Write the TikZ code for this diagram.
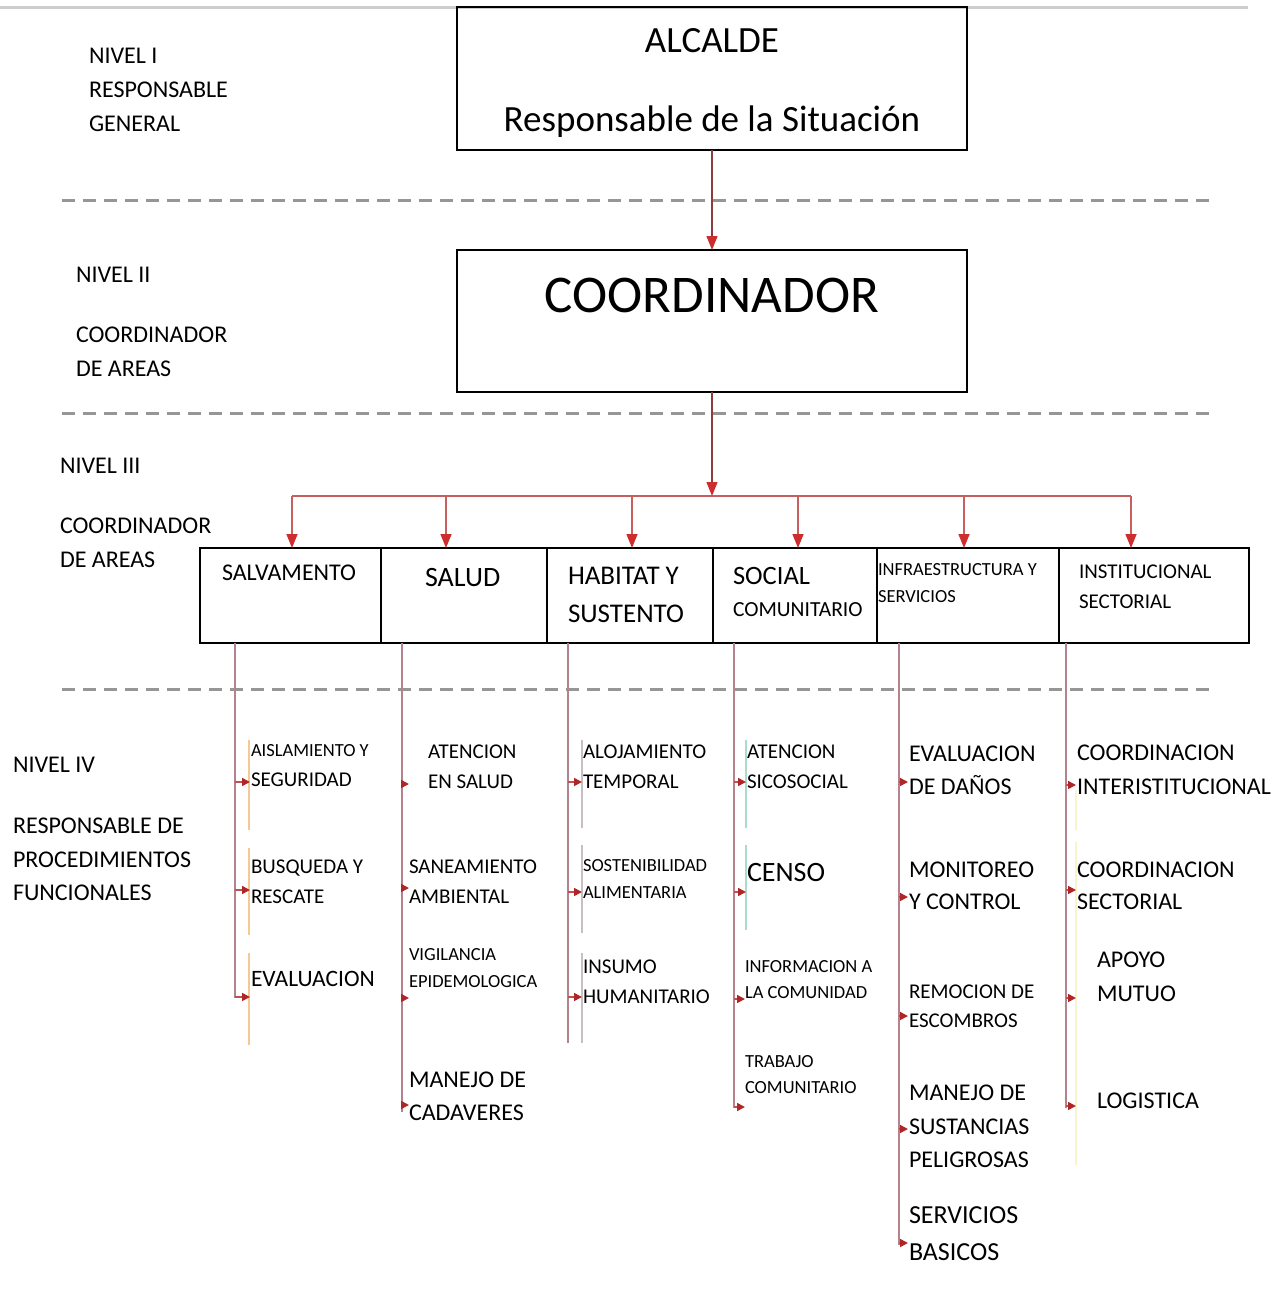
\documentclass[tikz,border=0pt]{standalone}
\usepackage{fontspec}
\setmainfont{Carlito}
\usetikzlibrary{arrows.meta,calc}
\definecolor{arrred}{RGB}{205,45,45}
\definecolor{busc}{RGB}{200,95,95}
\definecolor{stemc}{RGB}{140,60,60}
\definecolor{colc}{RGB}{180,130,140}
\definecolor{dashc}{RGB}{150,150,150}
\definecolor{topc}{RGB}{205,205,205}
\definecolor{edgeo}{RGB}{245,200,150}
\definecolor{edgeg}{RGB}{170,220,200}
\definecolor{edgey}{RGB}{248,244,205}
\definecolor{edgegr}{RGB}{200,190,195}
\newcommand\fsz[2]{\fontsize{#1}{#2}\selectfont}
\begin{document}
\begin{tikzpicture}[x=1pt,y=-1pt,
  txt/.style={anchor=west, inner sep=0pt, outer sep=0pt, align=left},
  ctxt/.style={anchor=base, inner sep=0pt, outer sep=0pt},
  box/.style={draw=black, line width=1.5pt, inner sep=0pt, outer sep=0pt},
  darr/.style={draw=stemc, line width=1.3pt, -{Triangle[length=14pt,width=11pt,color=arrred,fill=arrred]}},
  droparr/.style={draw=busc, line width=1.5pt, -{Triangle[length=14pt,width=11pt,color=arrred,fill=arrred]}},
  busline/.style={draw=busc, line width=1.8pt},
  colline/.style={draw=colc, line width=1.6pt},
  sarr/.style={draw=arrred!60!colc, line width=1.6pt, -{Triangle[length=8pt,width=8pt,color=arrred!85!black,fill=arrred!85!black]}},
  dashl/.style={draw=dashc, line width=3pt, dash pattern=on 13pt off 8pt},
  faint/.style={line width=1.6pt}
]
\fill[white] (0,0) rectangle (1281,1300);
\useasboundingbox (0,0) rectangle (1281,1300);

% top grey line
\coordinate (tl0) at (0,8);
\coordinate (tl1) at (1248,8);
\draw[draw=topc, line width=3pt] (tl0) -- (tl1);

% dashed separators
\coordinate (d1a) at (62,200);  \coordinate (d1b) at (1210,200);
\coordinate (d2a) at (62,413);  \coordinate (d2b) at (1210,413);
\coordinate (d3a) at (62,689);  \coordinate (d3b) at (1210,689);
\draw[dashl] (d1a) -- (d1b);
\draw[dashl] (d2a) -- (d2b);
\draw[dashl] (d3a) -- (d3b);

% left level labels
\node[txt, font=\fsz{24}{34}] (nl1) at (89,89.7) {NIVEL I\\RESPONSABLE\\GENERAL};
\node[txt, font=\fsz{24}{34}] (nl2a) at (76,275) {NIVEL II};
\node[txt, font=\fsz{24}{34}] (nl2b) at (76,352) {COORDINADOR\\DE AREAS};
\node[txt, font=\fsz{24}{34}] (nl3a) at (60,466) {NIVEL III};
\node[txt, font=\fsz{24}{34}] (nl3b) at (60,543) {COORDINADOR\\DE AREAS};
\node[txt, font=\fsz{24}{34}] (nl4a) at (13,765) {NIVEL IV};
\node[txt, font=\fsz{24}{33.5}] (nl4b) at (13,859.3) {RESPONSABLE DE\\PROCEDIMIENTOS\\FUNCIONALES};

% top boxes
\node[box, minimum width=510pt, minimum height=143pt] (alc) at (712,78.5) {};
\node[ctxt, font=\fsz{37}{44}] (alct) at (712,52.7) {ALCALDE};
\node[ctxt, font=\fsz{37}{44}] (alcr) at (712,131.7) {Responsable de la Situación};
\node[box, minimum width=510pt, minimum height=142pt] (coord) at (712,321) {};
\node[ctxt, font=\fsz{53}{60}] (coordt) at (712,312.7) {COORDINADOR};

% level III boxes
\node[box, minimum width=181pt, minimum height=95pt] (salv) at (290.5,595.5) {};
\node[box, minimum width=166pt, minimum height=95pt] (salud) at (464,595.5) {};
\node[box, minimum width=166pt, minimum height=95pt] (hab) at (630,595.5) {};
\node[box, minimum width=164pt, minimum height=95pt] (soc) at (795,595.5) {};
\node[box, minimum width=182pt, minimum height=95pt] (infra) at (968,595.5) {};
\node[box, minimum width=190pt, minimum height=95pt] (inst) at (1154,595.5) {};

\node[txt, font=\fsz{24}{30}] (salvt) at (222,573) {SALVAMENTO};
\node[txt, font=\fsz{28}{34}] (saludt) at (425,578) {SALUD};
\node[txt, font=\fsz{27}{38}] (habt) at (568,595) {HABITAT Y\\SUSTENTO};
\node[txt, font=\fsz{26.5}{32}] (soct1) at (733,576) {SOCIAL};
\node[txt, font=\fsz{21.5}{30}] (soct2) at (733,610) {COMUNITARIO};
\node[txt, font=\fsz{18.5}{27}] (infrat) at (878,583.5) {INFRAESTRUCTURA Y\\SERVICIOS};
\node[txt, font=\fsz{21}{30}] (instt) at (1079,587) {INSTITUCIONAL\\SECTORIAL};

% connectors
\coordinate (bj) at (712,496);
\coordinate (b1) at (292,496);
\coordinate (b2) at (446,496);
\coordinate (b3) at (632,496);
\coordinate (b4) at (798,496);
\coordinate (b5) at (964,496);
\coordinate (b6) at (1131,496);
\draw[darr] (alc.south) -- (coord.north);
\draw[busline] (b1) -- (b6);
\draw[darr] (coord.south) -- (bj);
\draw[droparr] (b1) -- (b1 |- salv.north);
\draw[droparr] (b2) -- (b2 |- salud.north);
\draw[droparr] (b3) -- (b3 |- hab.north);
\draw[droparr] (b4) -- (b4 |- soc.north);
\draw[droparr] (b5) -- (b5 |- infra.north);
\draw[droparr] (b6) -- (b6 |- inst.north);

% faint text box edges
\draw[faint, edgeo] (249,740) -- (249,830) (249,848) -- (249,935) (249,953) -- (249,1045);
\draw[faint, edgegr] (582,740) -- (582,828) (582,845) -- (582,933) (582,953) -- (582,1043);
\draw[faint, edgeg] (746,740) -- (746,828) (746,845) -- (746,930);
\draw[faint, edgey] (1076,790) -- (1076,830) (1076,842) -- (1076,1165);

% column lines
\coordinate (cS) at (235,643);  \coordinate (cSe) at (235,998);
\coordinate (cH) at (402,643);  \coordinate (cHe) at (402,1112);
\coordinate (cB) at (568,643);  \coordinate (cBe) at (568,1043);
\coordinate (cC) at (734,643);  \coordinate (cCe) at (734,1108);
\coordinate (cI) at (899,643);  \coordinate (cIe) at (899,1245);
\coordinate (cT) at (1066,643); \coordinate (cTe) at (1066,1108);
\draw[colline] (cS) -- (cSe);
\draw[colline] (cH) -- (cHe);
\draw[colline] (cB) -- (cBe);
\draw[colline] (cC) -- (cCe);
\draw[colline] (cI) -- (cIe);
\draw[colline] (cT) -- (cTe);

% SALVAMENTO items
\node[txt, font=\fsz{18.5}{30}] (s1) at (251,766) {AISLAMIENTO Y\\{\fsz{21}{30}SEGURIDAD}};
\node[txt, font=\fsz{21}{30}] (s2) at (251,882) {BUSQUEDA Y\\RESCATE};
\node[txt, font=\fsz{23.5}{30}] (s3) at (251,979) {EVALUACION};
\coordinate (as1) at (250,782); \coordinate (as2) at (250,890); \coordinate (as3) at (250,997);
\draw[sarr] (cS |- as1) -- (as1);
\draw[sarr] (cS |- as2) -- (as2);
\draw[sarr] (cS |- as3) -- (as3);

% SALUD items
\node[txt, font=\fsz{21}{30}] (h1) at (428,767) {ATENCION\\EN SALUD};
\node[txt, font=\fsz{21}{30}] (h2) at (409,882) {SANEAMIENTO\\AMBIENTAL};
\node[txt, font=\fsz{18.5}{27}] (h3) at (409,968.5) {VIGILANCIA\\EPIDEMOLOGICA};
\node[txt, font=\fsz{24}{33}] (h4) at (409,1096.5) {MANEJO DE\\CADAVERES};
\coordinate (ah1) at (409,784); \coordinate (ah2) at (409,888); \coordinate (ah3) at (409,998); \coordinate (ah4) at (409,1105);
\draw[sarr] (cH |- ah1) -- (ah1);
\draw[sarr] (cH |- ah2) -- (ah2);
\draw[sarr] (cH |- ah3) -- (ah3);
\draw[sarr] (cH |- ah4) -- (ah4);

% HABITAT items
\node[txt, font=\fsz{21}{30}] (hb1) at (583,767) {ALOJAMIENTO\\TEMPORAL};
\node[txt, font=\fsz{18.5}{27}] (hb2) at (583,878.5) {SOSTENIBILIDAD\\ALIMENTARIA};
\node[txt, font=\fsz{21}{30}] (hb3) at (583,982) {INSUMO\\HUMANITARIO};
\coordinate (ab1) at (582,782); \coordinate (ab2) at (582,892); \coordinate (ab3) at (582,997);
\draw[sarr] (cB |- ab1) -- (ab1);
\draw[sarr] (cB |- ab2) -- (ab2);
\draw[sarr] (cB |- ab3) -- (ab3);

% SOCIAL items
\node[txt, font=\fsz{21}{30}] (c1) at (747,767) {ATENCION\\SICOSOCIAL};
\node[txt, font=\fsz{28}{34}] (c2) at (747,873) {CENSO};
\node[txt, font=\fsz{18.5}{26}] (c3) at (745,979.5) {INFORMACION A\\LA COMUNIDAD};
\node[txt, font=\fsz{18.5}{26}] (c4) at (745,1075) {TRABAJO\\COMUNITARIO};
\coordinate (ac1) at (746,782); \coordinate (ac2) at (746,892); \coordinate (ac3) at (745,999); \coordinate (ac4) at (745,1107);
\draw[sarr] (cC |- ac1) -- (ac1);
\draw[sarr] (cC |- ac2) -- (ac2);
\draw[sarr] (cC |- ac3) -- (ac3);
\draw[sarr] (cC |- ac4) -- (ac4);

% INFRAESTRUCTURA items
\node[txt, font=\fsz{24}{33}] (i1) at (909,770.5) {EVALUACION\\DE DAÑOS};
\node[txt, font=\fsz{24}{32}] (i2) at (909,886) {MONITOREO\\Y CONTROL};
\node[txt, font=\fsz{21}{29}] (i3) at (909,1006.5) {REMOCION DE\\ESCOMBROS};
\node[txt, font=\fsz{24}{33.5}] (i4) at (909,1126.5) {MANEJO DE\\SUSTANCIAS\\PELIGROSAS};
\node[txt, font=\fsz{26}{37}] (i5) at (909,1233.5) {SERVICIOS\\BASICOS};
\coordinate (ai1) at (908,782); \coordinate (ai2) at (908,897); \coordinate (ai3) at (908,1016); \coordinate (ai4) at (908,1129); \coordinate (ai5) at (908,1243);
\draw[sarr] (cI |- ai1) -- (ai1);
\draw[sarr] (cI |- ai2) -- (ai2);
\draw[sarr] (cI |- ai3) -- (ai3);
\draw[sarr] (cI |- ai4) -- (ai4);
\draw[sarr] (cI |- ai5) -- (ai5);

% INSTITUCIONAL items
\node[txt, font=\fsz{24}{34}] (t1) at (1077,770) {COORDINACION\\INTERISTITUCIONAL};
\node[txt, font=\fsz{24}{32}] (t2) at (1077,886) {COORDINACION\\SECTORIAL};
\node[txt, font=\fsz{24}{34}] (t3) at (1097,977) {APOYO\\MUTUO};
\node[txt, font=\fsz{24}{34}] (t4) at (1097,1101) {LOGISTICA};
\coordinate (at1) at (1076,785); \coordinate (at2) at (1076,890); \coordinate (at3) at (1076,998); \coordinate (at4) at (1076,1106);
\draw[sarr] (cT |- at1) -- (at1);
\draw[sarr] (cT |- at2) -- (at2);
\draw[sarr] (cT |- at3) -- (at3);
\draw[sarr] (cT |- at4) -- (at4);
\end{tikzpicture}
\end{document}
